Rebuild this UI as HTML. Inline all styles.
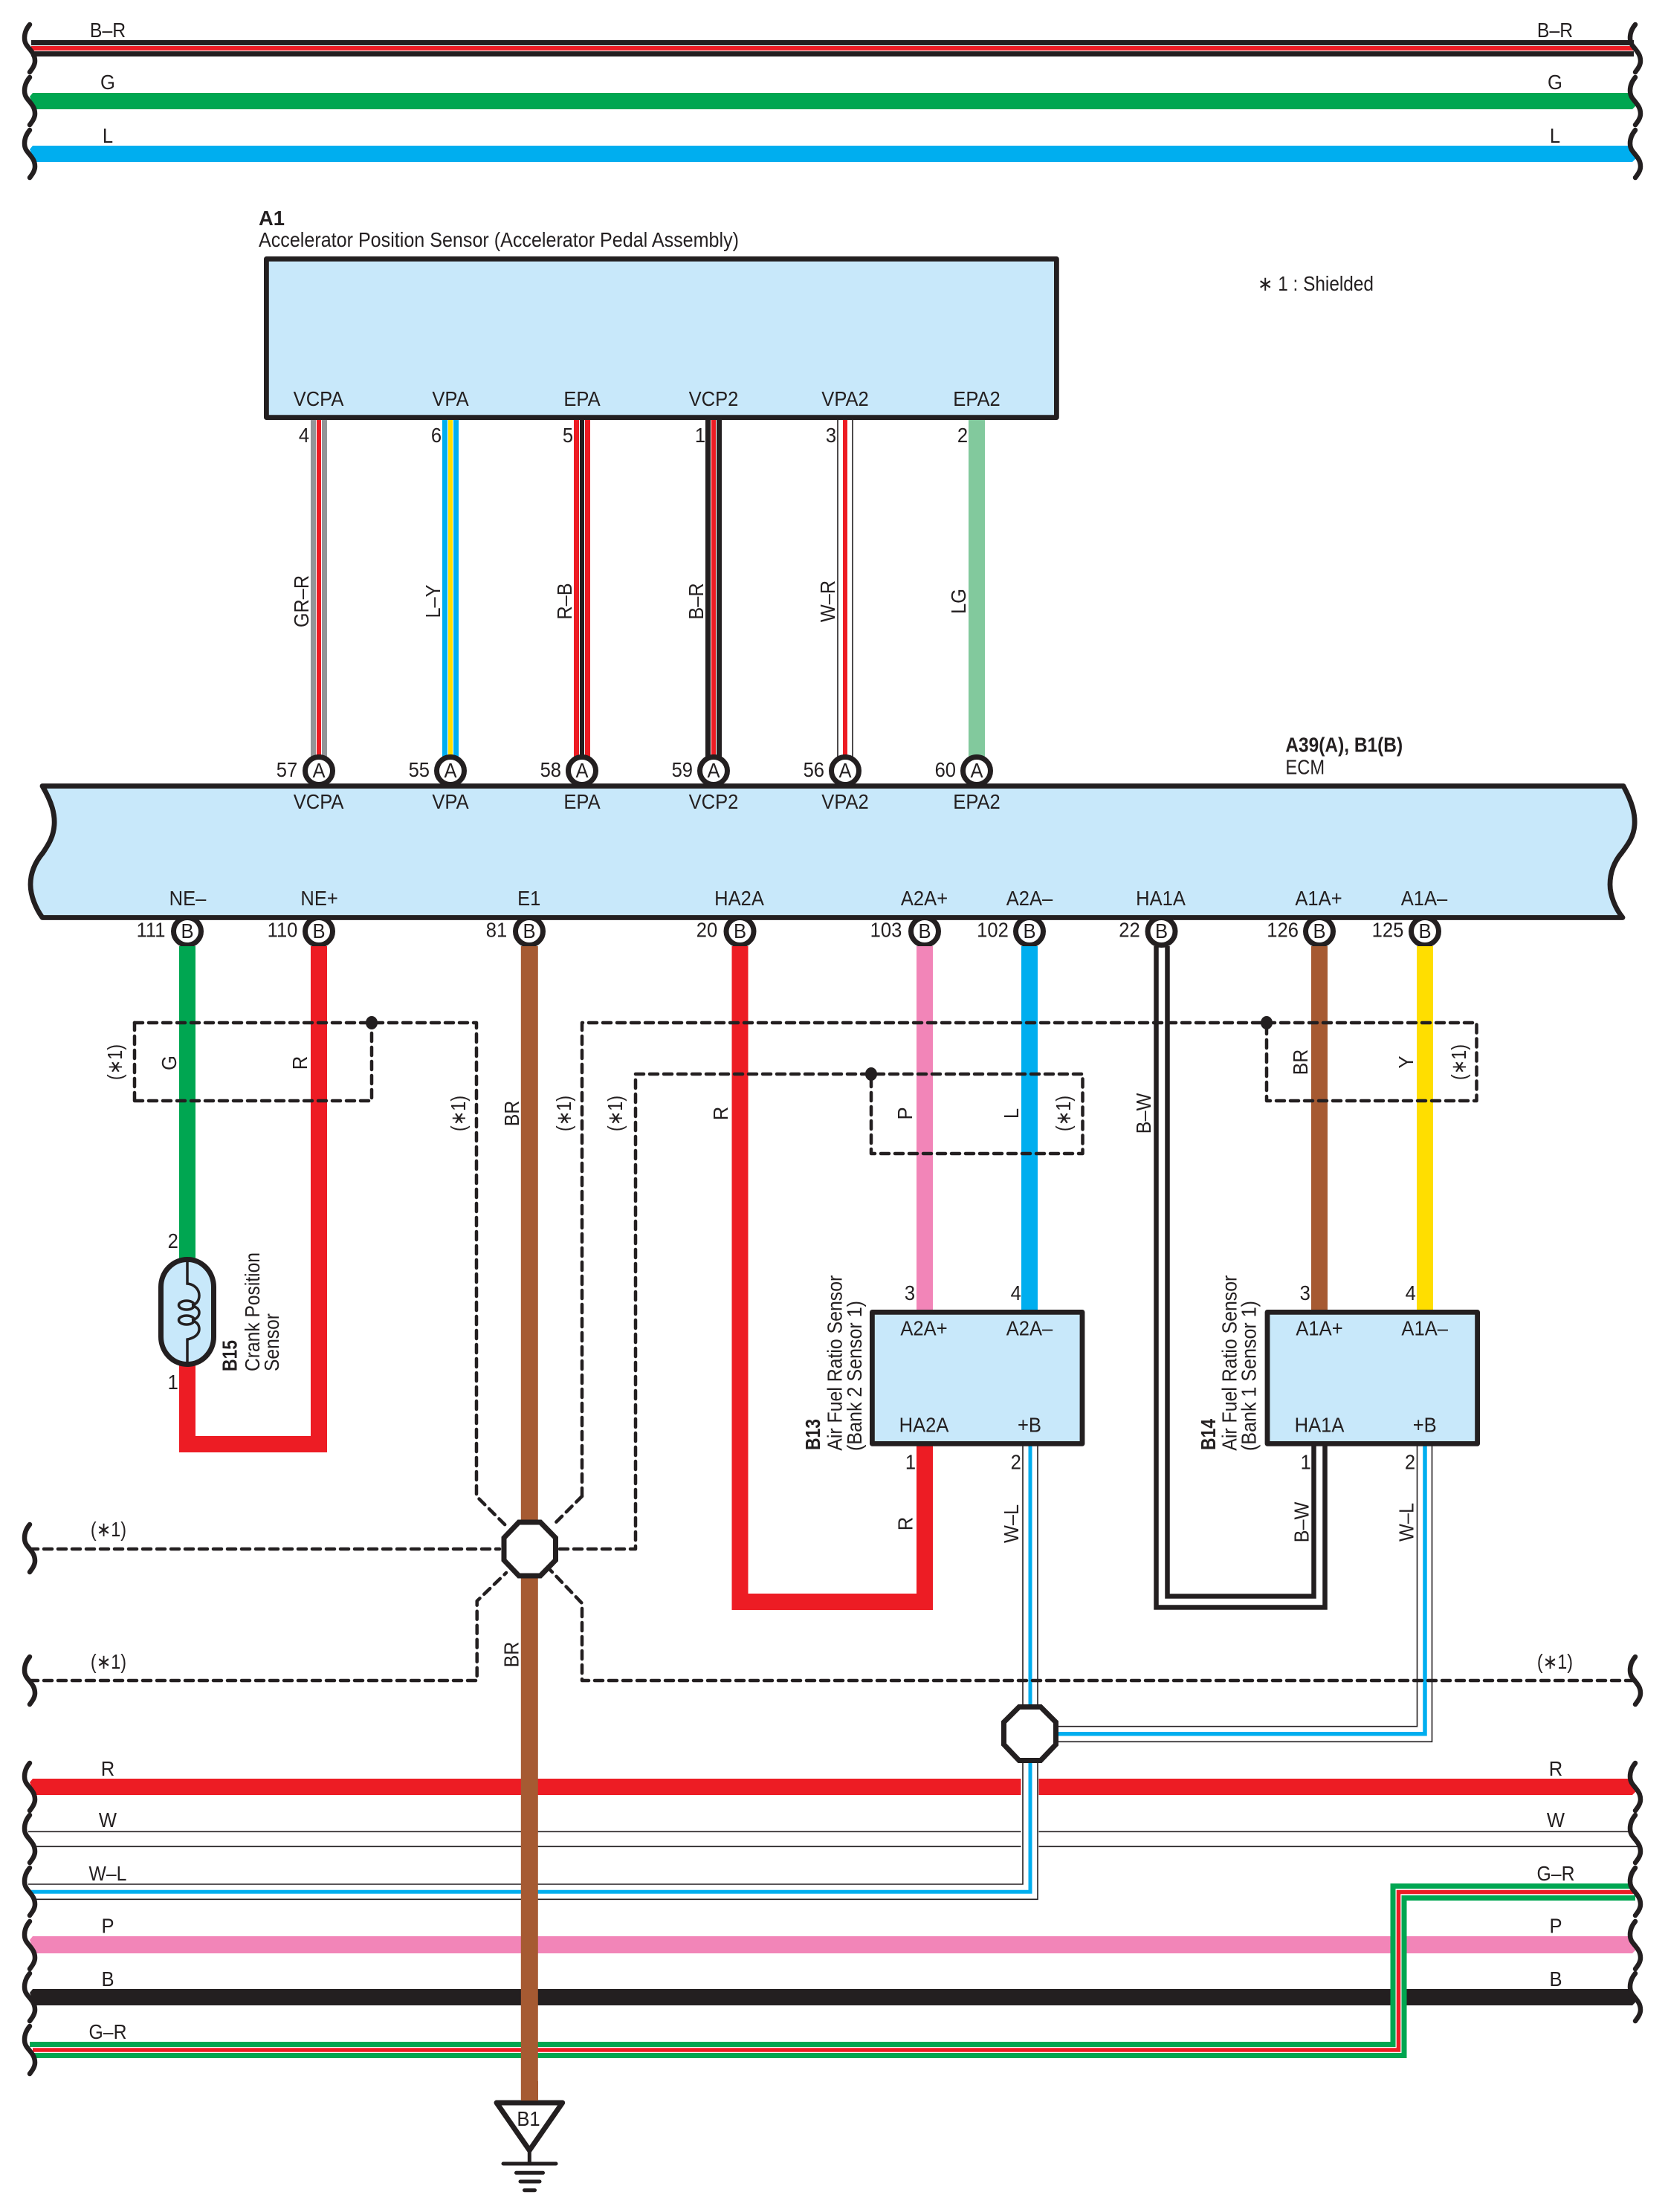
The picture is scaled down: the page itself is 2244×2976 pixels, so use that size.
<!DOCTYPE html>
<html><head><meta charset="utf-8"><title>Wiring diagram</title>
<style>
html,body{margin:0;padding:0;background:#fff}
svg{display:block}
text{font-family:"Liberation Sans",sans-serif;font-size:27.5px;fill:#231f20}
.t{text-anchor:middle}
.b{font-weight:bold}
.th{fill:none;stroke:#231f20;stroke-width:1.6}
.d{fill:none;stroke:#231f20;stroke-width:4.5;stroke-dasharray:11 8;stroke-linecap:round;stroke-linejoin:round}
.w{fill:none;stroke-linejoin:miter}
.box{fill:#c8e8fa;stroke:#231f20;stroke-width:6.8;stroke-linejoin:round}
.pin{fill:#fff;stroke:#231f20;stroke-width:7}
.oct{fill:#fff;stroke:#231f20;stroke-width:7;stroke-linejoin:miter}
</style></head><body>
<svg xmlns="http://www.w3.org/2000/svg" width="2244" height="2976" viewBox="0 0 2244 2976">
<defs>
<path id="br" d="M40,-32 C35,-26 33,-20 33,-14 C33,-6 37,-3 40,1 C44,6 47,10 47,17 C47,23 43,28 40,32" fill="none" stroke="#231f20" stroke-width="6.5" stroke-linecap="round"/>
</defs>
<rect width="2244" height="2976" fill="#fff"/>

<!-- top buses -->
<g fill="none">
<path d="M42 57.5H2198M42 72.5H2198" stroke="#231f20" stroke-width="7"/>
<path d="M42 65H2198" stroke="#ed1c24" stroke-width="6"/>
</g>
<path fill="#00a651" d="M44 125H2192L2201 142L2196 147H47L40 130Z"/>
<path fill="#00aeef" d="M44 196H2192L2201 213L2196 218H47L40 201Z"/>

<!-- bottom buses -->
<path fill="#ed1c24" d="M44 2393H2192L2201 2410L2196 2415H47L40 2398Z"/>
<path class="th" d="M38 2464.3H2196M44 2484.3H2203"/>
<path fill="#f285b8" d="M44 2605H2192L2201 2623L2196 2628H47L40 2610Z"/>
<path fill="#231f20" d="M44 2676H2192L2201 2693L2196 2698H47L40 2681Z"/>
<rect x="1373.5" y="2390" width="24" height="100" fill="#fff"/>
<rect x="1870.5" y="2600" width="22" height="110" fill="#fff"/>

<!-- W-L left -->
<path class="th" d="M38 2535H1376V1945M46 2555.3H1396V1945"/>
<path class="w" stroke="#00aeef" stroke-width="5" d="M42 2545.2H1386V1945"/>

<!-- G-R -->
<path class="w" stroke="#00a651" stroke-width="7" d="M40 2750.5H1874V2537.5H2194M46 2765.5H1889V2553.5H2200"/>
<path class="w" stroke="#ed1c24" stroke-width="5.5" d="M44 2758H1881.5V2545.5H2197"/>

<!-- braces -->
<g>
<use href="#br" y="65"/><use href="#br" y="136"/><use href="#br" y="207"/>
<use href="#br" y="2083"/><use href="#br" y="2261"/>
<use href="#br" y="2404"/><use href="#br" y="2474"/><use href="#br" y="2545"/><use href="#br" y="2617"/><use href="#br" y="2687"/><use href="#br" y="2758"/>
<g transform="translate(2160 0)">
<use href="#br" y="65"/><use href="#br" y="136"/><use href="#br" y="207"/>
<use href="#br" y="2261"/>
<use href="#br" y="2404"/><use href="#br" y="2474"/><use href="#br" y="2545"/><use href="#br" y="2617"/><use href="#br" y="2687"/>
</g>
</g>

<!-- upper vertical wires -->
<g class="w">
<path d="M421.5 565V1025M436.5 565V1025" stroke="#939598" stroke-width="7" fill="none"/>
<path d="M429 565V1025" stroke="#ed1c24" stroke-width="6" fill="none"/>
<path d="M598.5 565V1025M613.5 565V1025" stroke="#00aeef" stroke-width="7" fill="none"/>
<path d="M606 565V1025" stroke="#ffde00" stroke-width="6" fill="none"/>
<path d="M775.5 565V1025M790.5 565V1025" stroke="#ed1c24" stroke-width="7" fill="none"/>
<path d="M783 565V1025" stroke="#231f20" stroke-width="6" fill="none"/>
<path d="M952.5 565V1025M967.5 565V1025" stroke="#231f20" stroke-width="7" fill="none"/>
<path d="M960 565V1025" stroke="#ed1c24" stroke-width="6" fill="none"/>
<path class="th" d="M1127 565V1025M1147 565V1025"/>
<path d="M1137 565V1025" stroke="#ed1c24" stroke-width="6" fill="none"/>
<path d="M1314 565V1025" stroke="#82c99d" stroke-width="22" fill="none"/>
</g>

<!-- A1 -->
<rect class="box" x="358.4" y="348.4" width="1063" height="213.2"/>

<!-- pins A -->
<g class="pin">
<circle cx="429" cy="1037" r="18.5"/><circle cx="606" cy="1037" r="18.5"/><circle cx="783" cy="1037" r="18.5"/>
<circle cx="960" cy="1037" r="18.5"/><circle cx="1137" cy="1037" r="18.5"/><circle cx="1314" cy="1037" r="18.5"/>
</g>
<!-- pins B -->
<g class="pin">
<circle cx="252" cy="1253" r="18.5"/><circle cx="429" cy="1253" r="18.5"/><circle cx="712" cy="1253" r="18.5"/>
<circle cx="995.5" cy="1253" r="18.5"/><circle cx="1244" cy="1253" r="18.5"/><circle cx="1385" cy="1253" r="18.5"/>
<circle cx="1562.5" cy="1253" r="18.5"/><circle cx="1775" cy="1253" r="18.5"/><circle cx="1917" cy="1253" r="18.5"/>
</g>

<!-- ECM -->
<path class="box" d="M57 1057.5H2184C2196 1080 2200 1095 2199 1110C2198 1125 2191 1135 2182 1147C2171 1160 2166 1175 2166 1190C2166 1205 2173 1222 2183 1234.5H57C48 1222 41 1205 41 1190C41 1175 47 1160 58 1147C66 1135 72 1125 73 1110C74 1095 70 1080 57 1057.5Z"/>

<!-- lower vertical wires -->
<g class="w" fill="none">
<path d="M252 1273V1695" stroke="#00a651" stroke-width="22"/>
<path d="M252 1835V1943H429V1273" stroke="#ed1c24" stroke-width="22"/>
<path d="M995.5 1273V2155H1244V1942" stroke="#ed1c24" stroke-width="22"/>
<path d="M1244 1273V1765" stroke="#f285b8" stroke-width="22"/>
<path d="M1385 1273V1765" stroke="#00aeef" stroke-width="22"/>
<path d="M1775 1273V1765" stroke="#a65a32" stroke-width="22"/>
<path d="M1917 1273V1765" stroke="#ffde00" stroke-width="22"/>
<path d="M1555.5 1273V2162.5H1782.5V1942" stroke="#231f20" stroke-width="6.5"/>
<path d="M1570.5 1273V2147.5H1767.5V1942" stroke="#231f20" stroke-width="6.5"/>
<path d="M712.3 1273V2825" stroke="#a65a32" stroke-width="23"/>
<path class="th" d="M1906.5 1945V2322.7H1420M1926.5 1945V2343.3H1420"/>
<path d="M1917 1945V2332.7H1420" stroke="#00aeef" stroke-width="5.5"/>
</g>

<!-- crank sensor -->
<rect x="216.5" y="1694.5" width="71" height="141" rx="35.5" ry="37" fill="#c8e8fa" stroke="#231f20" stroke-width="7"/>
<g fill="none" stroke="#231f20" stroke-width="3.5">
<path d="M252 1695V1727C262 1728 268 1735 268 1743C268 1750 264 1755 258 1756M258 1757C264 1758 268 1761 268 1766C268 1771 264 1775 258 1776M258 1777C265 1778 268 1783 268 1788C268 1795 262 1800 252 1802V1836"/>
<ellipse cx="251" cy="1756" rx="10.5" ry="6"/>
<ellipse cx="251" cy="1776" rx="10.5" ry="6"/>
</g>

<!-- sensors -->
<rect class="box" x="1173.4" y="1765.4" width="282.6" height="177"/>
<rect class="box" x="1705" y="1765.4" width="282.6" height="177"/>

<!-- octagons -->
<polygon class="oct" points="698,2048 727,2048 747.5,2069 747.5,2099 727,2120 698,2120 678,2099 678,2069"/>
<polygon class="oct" points="1371,2296.5 1400,2296.5 1420.5,2317 1420.5,2347 1400,2368.5 1371,2368.5 1350.5,2347 1350.5,2317"/>

<!-- dashed shields -->
<g class="d">
<path d="M181 1376H641V2013L681 2053"/>
<path d="M181 1481V1376M181 1481H500V1376"/>
<path d="M783 2013V1376H1986.5V1481H1704V1376"/>
<path d="M783 2013L744 2052"/>
<path d="M40 2084H672"/>
<path d="M753 2084H855V1445H1456.5V1552H1172V1445"/>
<path d="M40 2261H641.7V2154L681 2116"/>
<path d="M2198 2261H783V2157L740 2112"/>
</g>
<g fill="#231f20">
<ellipse cx="500" cy="1376" rx="8" ry="9"/>
<ellipse cx="1172" cy="1445" rx="8" ry="9"/>
<ellipse cx="1704" cy="1376" rx="8" ry="9"/>
</g>

<!-- ground -->
<g fill="none" stroke="#231f20" stroke-linecap="round" stroke-linejoin="round">
<path d="M668 2829H756.7L712.3 2893Z" fill="#fff" stroke-width="7"/>
<path d="M712.3 2893V2911" stroke-width="5"/>
<path d="M677 2911H748M694.5 2923.3H730.5M700 2935H726M705.5 2946.7H719.5" stroke-width="5"/>
</g>
<rect x="701" y="2800" width="23" height="26" fill="#a65a32"/>

<!-- bus labels -->
<g class="t">
<text transform="translate(145 50) scale(.9 1)">B–R</text>
<text transform="translate(145 120) scale(.93 1)">G</text>
<text transform="translate(145 192) scale(.93 1)">L</text>
<text transform="translate(2092 50) scale(.9 1)">B–R</text>
<text transform="translate(2092 120) scale(.93 1)">G</text>
<text transform="translate(2092 192) scale(.93 1)">L</text>
<text transform="translate(145 2389) scale(.93 1)">R</text>
<text transform="translate(145 2458) scale(.93 1)">W</text>
<text transform="translate(145 2530) scale(.9 1)">W–L</text>
<text transform="translate(145 2600.7) scale(.93 1)">P</text>
<text transform="translate(145 2672) scale(.93 1)">B</text>
<text transform="translate(145 2743) scale(.9 1)">G–R</text>
<text transform="translate(2093 2389) scale(.93 1)">R</text>
<text transform="translate(2093 2458) scale(.93 1)">W</text>
<text transform="translate(2093 2530) scale(.9 1)">G–R</text>
<text transform="translate(2093 2600.7) scale(.93 1)">P</text>
<text transform="translate(2093 2672) scale(.93 1)">B</text>

<!-- A1 terminals -->
<text transform="translate(428.5 546) scale(.93 1)">VCPA</text>
<text transform="translate(606 546) scale(.93 1)">VPA</text>
<text transform="translate(783 546) scale(.93 1)">EPA</text>
<text transform="translate(960 546) scale(.93 1)">VCP2</text>
<text transform="translate(1137 546) scale(.93 1)">VPA2</text>
<text transform="translate(1314 546) scale(.93 1)">EPA2</text>
<text transform="translate(409 595) scale(.93 1)">4</text>
<text transform="translate(587 595) scale(.93 1)">6</text>
<text transform="translate(764 595) scale(.93 1)">5</text>
<text transform="translate(942 595) scale(.93 1)">1</text>
<text transform="translate(1118 595) scale(.93 1)">3</text>
<text transform="translate(1295 595) scale(.93 1)">2</text>

<!-- ECM terminals top -->
<text transform="translate(428.6 1088) scale(.93 1)">VCPA</text>
<text transform="translate(606 1088) scale(.93 1)">VPA</text>
<text transform="translate(783 1088) scale(.93 1)">EPA</text>
<text transform="translate(960 1088) scale(.93 1)">VCP2</text>
<text transform="translate(1137 1088) scale(.93 1)">VPA2</text>
<text transform="translate(1314 1088) scale(.93 1)">EPA2</text>
<text transform="translate(386 1045) scale(.93 1)">57</text>
<text transform="translate(563.8 1045) scale(.93 1)">55</text>
<text transform="translate(740.8 1045) scale(.93 1)">58</text>
<text transform="translate(917.8 1045) scale(.93 1)">59</text>
<text transform="translate(1094.8 1045) scale(.93 1)">56</text>
<text transform="translate(1271.8 1045) scale(.93 1)">60</text>
<text transform="translate(429 1046) scale(.93 1)">A</text>
<text transform="translate(606 1046) scale(.93 1)">A</text>
<text transform="translate(783 1046) scale(.93 1)">A</text>
<text transform="translate(960 1046) scale(.93 1)">A</text>
<text transform="translate(1137 1046) scale(.93 1)">A</text>
<text transform="translate(1314 1046) scale(.93 1)">A</text>

<!-- ECM terminals bottom -->
<text transform="translate(252.5 1218) scale(.93 1)">NE–</text>
<text transform="translate(429.6 1218) scale(.93 1)">NE+</text>
<text transform="translate(711.7 1218) scale(.93 1)">E1</text>
<text transform="translate(994.5 1218) scale(.93 1)">HA2A</text>
<text transform="translate(1243.5 1218) scale(.93 1)">A2A+</text>
<text transform="translate(1385 1218) scale(.93 1)">A2A–</text>
<text transform="translate(1561.5 1218) scale(.93 1)">HA1A</text>
<text transform="translate(1774 1218) scale(.93 1)">A1A+</text>
<text transform="translate(1916 1218) scale(.93 1)">A1A–</text>
<text transform="translate(203 1260.7) scale(.93 1)">111</text>
<text transform="translate(380 1260.7) scale(.93 1)">110</text>
<text transform="translate(668 1260.7) scale(.93 1)">81</text>
<text transform="translate(951 1260.7) scale(.93 1)">20</text>
<text transform="translate(1192 1260.7) scale(.93 1)">103</text>
<text transform="translate(1335.5 1260.7) scale(.93 1)">102</text>
<text transform="translate(1519.5 1260.7) scale(.93 1)">22</text>
<text transform="translate(1725.6 1260.7) scale(.93 1)">126</text>
<text transform="translate(1867 1260.7) scale(.93 1)">125</text>
<text transform="translate(252 1262) scale(.93 1)">B</text>
<text transform="translate(429 1262) scale(.93 1)">B</text>
<text transform="translate(712 1262) scale(.93 1)">B</text>
<text transform="translate(995.5 1262) scale(.93 1)">B</text>
<text transform="translate(1244 1262) scale(.93 1)">B</text>
<text transform="translate(1385 1262) scale(.93 1)">B</text>
<text transform="translate(1562.5 1262) scale(.93 1)">B</text>
<text transform="translate(1775 1262) scale(.93 1)">B</text>
<text transform="translate(1917 1262) scale(.93 1)">B</text>

<!-- sensor terminals -->
<text transform="translate(1243 1796.7) scale(.93 1)">A2A+</text>
<text transform="translate(1385 1796.7) scale(.93 1)">A2A–</text>
<text transform="translate(1243 1926.7) scale(.93 1)">HA2A</text>
<text transform="translate(1385 1926.7) scale(.93 1)">+B</text>
<text transform="translate(1224 1749) scale(.93 1)">3</text>
<text transform="translate(1366.7 1749) scale(.93 1)">4</text>
<text transform="translate(1225 1976.7) scale(.93 1)">1</text>
<text transform="translate(1366.7 1976.7) scale(.93 1)">2</text>
<text transform="translate(1775 1796.7) scale(.93 1)">A1A+</text>
<text transform="translate(1916.7 1796.7) scale(.93 1)">A1A–</text>
<text transform="translate(1775 1926.5) scale(.93 1)">HA1A</text>
<text transform="translate(1916.7 1926.5) scale(.93 1)">+B</text>
<text transform="translate(1755.7 1749) scale(.93 1)">3</text>
<text transform="translate(1897.7 1749) scale(.93 1)">4</text>
<text transform="translate(1756.7 1976.7) scale(.93 1)">1</text>
<text transform="translate(1897 1976.7) scale(.93 1)">2</text>
<text transform="translate(232.7 1679) scale(.93 1)">2</text>
<text transform="translate(232.7 1869) scale(.93 1)">1</text>
<text transform="translate(711 2860) scale(.93 1)">B1</text>

<!-- rotated wire colours: upper -->
<text transform="translate(415 809) rotate(-90) scale(.92 1)">GR–R</text>
<text transform="translate(592 809) rotate(-90) scale(.92 1)">L–Y</text>
<text transform="translate(769 809) rotate(-90) scale(.92 1)">R–B</text>
<text transform="translate(946 809) rotate(-90) scale(.92 1)">B–R</text>
<text transform="translate(1123 809) rotate(-90) scale(.92 1)">W–R</text>
<text transform="translate(1299 809) rotate(-90) scale(.93 1)">LG</text>

<!-- rotated wire colours: lower -->
<text transform="translate(237 1430) rotate(-90) scale(.93 1)">G</text>
<text transform="translate(413 1430) rotate(-90) scale(.93 1)">R</text>
<text transform="translate(698 1498) rotate(-90) scale(.9 1)">BR</text>
<text transform="translate(979 1498) rotate(-90) scale(.93 1)">R</text>
<text transform="translate(1227 1498) rotate(-90) scale(.93 1)">P</text>
<text transform="translate(1370 1498) rotate(-90) scale(.93 1)">L</text>
<text transform="translate(1548 1498) rotate(-90) scale(.92 1)">B–W</text>
<text transform="translate(1759 1429) rotate(-90) scale(.9 1)">BR</text>
<text transform="translate(1901 1429) rotate(-90) scale(.93 1)">Y</text>
<text transform="translate(1227.7 2050) rotate(-90) scale(.93 1)">R</text>
<text transform="translate(1370 2050) rotate(-90) scale(.92 1)">W–L</text>
<text transform="translate(1760.5 2048) rotate(-90) scale(.92 1)">B–W</text>
<text transform="translate(1901.7 2048) rotate(-90) scale(.92 1)">W–L</text>
<text transform="translate(697.3 2226) rotate(-90) scale(.9 1)">BR</text>

<!-- shield labels -->
<g font-family="Liberation Sans, DejaVu Sans, sans-serif">
<text transform="translate(164 1429) rotate(-90) scale(.85 1)">(∗1)</text>
<text transform="translate(626 1498) rotate(-90) scale(.85 1)">(∗1)</text>
<text transform="translate(768 1498) rotate(-90) scale(.85 1)">(∗1)</text>
<text transform="translate(837 1498) rotate(-90) scale(.85 1)">(∗1)</text>
<text transform="translate(1440 1498) rotate(-90) scale(.85 1)">(∗1)</text>
<text transform="translate(1972 1429) rotate(-90) scale(.85 1)">(∗1)</text>
<text transform="translate(146 2067) scale(.85 1)">(∗1)</text>
<text transform="translate(146 2245) scale(.85 1)">(∗1)</text>
<text transform="translate(2092 2245) scale(.85 1)">(∗1)</text>
</g>
</g>

<!-- titles -->
<text class="b" x="348" y="303" textLength="35" lengthAdjust="spacingAndGlyphs">A1</text>
<text x="348" y="332" textLength="646" lengthAdjust="spacingAndGlyphs">Accelerator Position Sensor (Accelerator Pedal Assembly)</text>
<text class="b" x="1729.4" y="1011.7" textLength="157.7" lengthAdjust="spacingAndGlyphs">A39(A), B1(B)</text>
<text x="1729.4" y="1041.7" textLength="52.7" lengthAdjust="spacingAndGlyphs">ECM</text>
<text x="1692" y="391" textLength="156" lengthAdjust="spacingAndGlyphs">∗ 1 : Shielded</text>

<!-- rotated sensor names -->
<text class="b" transform="translate(318.7 1845) rotate(-90)" textLength="42" lengthAdjust="spacingAndGlyphs">B15</text>
<text transform="translate(349 1845) rotate(-90)" textLength="160" lengthAdjust="spacingAndGlyphs">Crank Position</text>
<text transform="translate(375 1845) rotate(-90)" textLength="78" lengthAdjust="spacingAndGlyphs">Sensor</text>
<text class="b" transform="translate(1103 1951) rotate(-90)" textLength="42" lengthAdjust="spacingAndGlyphs">B13</text>
<text transform="translate(1132.7 1951.7) rotate(-90)" textLength="236" lengthAdjust="spacingAndGlyphs">Air Fuel Ratio Sensor</text>
<text transform="translate(1159 1952) rotate(-90)" textLength="202" lengthAdjust="spacingAndGlyphs">(Bank 2 Sensor 1)</text>
<text class="b" transform="translate(1635 1951) rotate(-90)" textLength="42" lengthAdjust="spacingAndGlyphs">B14</text>
<text transform="translate(1663.3 1951.7) rotate(-90)" textLength="236" lengthAdjust="spacingAndGlyphs">Air Fuel Ratio Sensor</text>
<text transform="translate(1689.3 1952) rotate(-90)" textLength="202" lengthAdjust="spacingAndGlyphs">(Bank 1 Sensor 1)</text>
</svg>
</body></html>
